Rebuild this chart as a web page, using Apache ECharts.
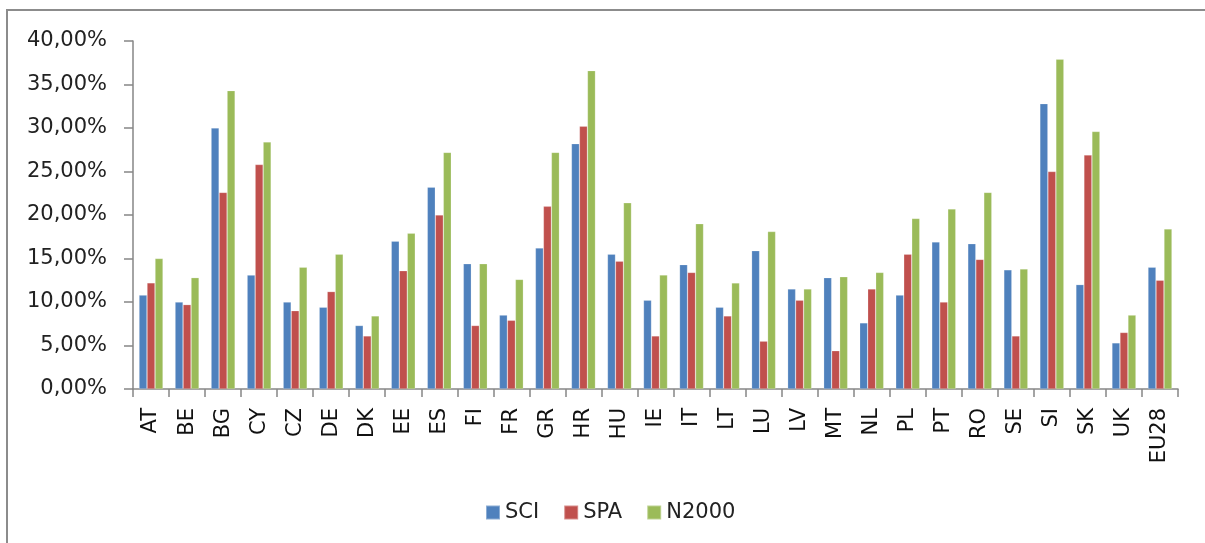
<!DOCTYPE html>
<html>
<head>
<meta charset="utf-8">
<script src="https://cdn.jsdelivr.net/npm/echarts@6/dist/echarts.min.js"></script>
<style>
html,body{margin:0;padding:0;background:#fff;}
#chart{width:1205px;height:543px;}
</style>
</head>
<body>
<div id="chart"></div>
<script>
const categories = ['AT','BE','BG','CY','CZ','DE','DK','EE','ES','FI','FR','GR','HR','HU','IE','IT','LT','LU','LV','MT','NL','PL','PT','RO','SE','SI','SK','UK','EU28'];
const sci   = [10.8,10.0,30.0,13.1,10.0,9.4,7.3,17.0,23.2,14.4,8.5,16.2,28.2,15.5,10.2,14.3,9.4,15.9,11.5,12.8,7.6,10.8,16.9,16.7,13.7,32.8,12.0,5.3,14.0];
const spa   = [12.2,9.7,22.6,25.8,9.0,11.2,6.1,13.6,20.0,7.3,7.9,21.0,30.2,14.7,6.1,13.4,8.4,5.5,10.2,4.4,11.5,15.5,10.0,14.9,6.1,25.0,26.9,6.5,12.5];
const n2000 = [15.0,12.8,34.3,28.4,14.0,15.5,8.4,17.9,27.2,14.4,12.6,27.2,36.6,21.4,13.1,19.0,12.2,18.1,11.5,12.9,13.4,19.6,20.7,22.6,13.8,37.9,29.6,8.5,18.4];
const seriesNames = ['SCI','SPA','N2000'];
const colors = ['#4F81BD','#C0504D','#9BBB59'];

const chart = echarts.init(document.getElementById('chart'), null, {renderer:'canvas'});
const font = 'DejaVu Sans';
const mk = (name, data, i) => ({
  name, type:'bar', data, barWidth:8, barGap:'0%',
  itemStyle:{color:colors[i], borderColor:'rgba(255,255,255,0.35)', borderWidth:0.6},
  emphasis:{disabled:true}
});
chart.setOption({
  animation:false,
  backgroundColor:'#fff',
  graphic:[
    {type:'line', shape:{x1:7,y1:10,x2:1205,y2:10}, style:{stroke:'#8c8c8c', lineWidth:2}, silent:true, z:-10},
    {type:'line', shape:{x1:7,y1:9,x2:7,y2:543}, style:{stroke:'#8c8c8c', lineWidth:2}, silent:true, z:-10}
  ],
  grid:{left:133, right:27, top:41, bottom:154, containLabel:false},
  legend:{
    data:seriesNames, left:485, top:502, padding:0, itemWidth:14, itemHeight:14, itemGap:24,
    icon:'rect',
    textStyle:{fontFamily:font, fontSize:21, color:'#222'}
  },
  xAxis:{
    type:'category', data:categories,
    axisLine:{lineStyle:{color:'#868686', width:1.5}},
    axisTick:{show:true, length:8, alignWithLabel:false, lineStyle:{color:'#868686', width:1.5}},
    axisLabel:{rotate:90, interval:0, margin:19, fontFamily:font, fontSize:21, color:'#111'}
  },
  yAxis:{
    type:'value', min:0, max:40, interval:5,
    splitLine:{show:false},
    axisLine:{show:true, lineStyle:{color:'#868686', width:1.5}},
    axisTick:{show:true, length:9, inside:false, lineStyle:{color:'#868686', width:1.5}},
    axisLabel:{margin:26, fontFamily:font, fontSize:21, color:'#222',
      formatter:v=>v.toFixed(2).replace('.',',')+'%'}
  },
  series:[mk('SCI',sci,0), mk('SPA',spa,1), mk('N2000',n2000,2)]
});
</script>
</body>
</html>
